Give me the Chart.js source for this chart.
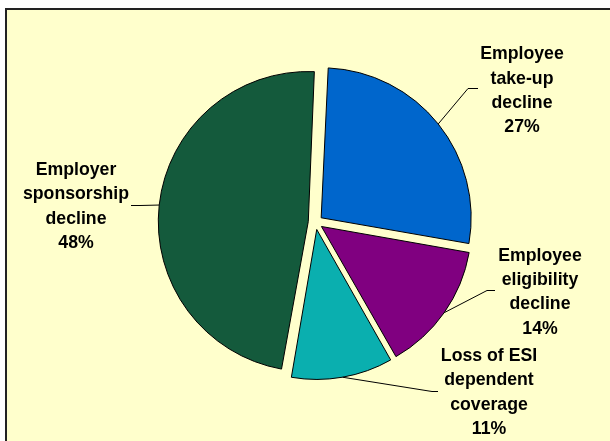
<!DOCTYPE html>
<html>
<head>
<meta charset="utf-8">
<script src="https://cdn.jsdelivr.net/npm/chart.js@4/dist/chart.umd.min.js"></script>
<style>
  html, body { margin: 0; padding: 0; background: #fff; overflow: hidden; }
  .frame {
    position: absolute; left: 5px; top: 8px;
    width: 700px; height: 500px;
    background: #ffffcc;
    border: 2px solid #222;
  }
  #pie { position: absolute; left: 0; top: 0; }
</style>
</head>
<body>
<div class="frame"></div>
<canvas id="pie" width="610" height="441"></canvas>
<script>
// slices go clockwise from the top
const categories = [
  ['Employee', 'take-up', 'decline'],
  ['Employee', 'eligibility', 'decline'],
  ['Loss of ESI', 'dependent', 'coverage'],
  ['Employer', 'sponsorship', 'decline']
];
const shares = [27, 14, 11, 48];

const sliceColors = ['#0066cc', '#800080', '#0aafaf', '#145a3c'];

const PIE_RADIUS = 150;
const SLICE_OFFSET = 29;   // chart.js v4 shifts an arc by offset / 4
const LINE_STEP = 24.3;

// where each callout text block and its leader line sit
const labelPlacement = [
  { x: 522, y: 59.3,  knee: [468, 88.5],  end: [478, 88.5] },
  { x: 540, y: 260.8, knee: [487, 290.5], end: [495, 290.5] },
  { x: 489, y: 361,   knee: [432, 391.5], end: [438, 391.5] },
  { x: 76,  y: 175,   knee: [140, 205.5], end: [131, 205.5] }
];

// exploded arcs get a bigger radius for small/medium slices, undo that
const explodeFix = {
  id: 'explodeFix',
  afterDatasetsUpdate(chart) {
    chart.getDatasetMeta(0).data.forEach(arc => {
      const shift = SLICE_OFFSET / 4;
      const fix = 1 - Math.sin(Math.min(Math.PI, arc.circumference));
      arc.outerRadius = PIE_RADIUS - shift * fix;
    });
  }
};

const calloutLabels = {
  id: 'calloutLabels',
  afterDatasetsDraw(chart) {
    const ctx = chart.ctx;
    const arcs = chart.getDatasetMeta(0).data;
    ctx.save();
    ctx.strokeStyle = '#000';
    ctx.lineWidth = 1;
    ctx.fillStyle = '#000';
    ctx.font = 'bold 17.7px "Liberation Sans", Arial, sans-serif';
    ctx.textAlign = 'center';
    ctx.textBaseline = 'alphabetic';
    arcs.forEach((arc, i) => {
      const mid = (arc.startAngle + arc.endAngle) / 2;
      const r = PIE_RADIUS + SLICE_OFFSET / 4;
      const ax = arc.x + Math.cos(mid) * r;
      const ay = arc.y + Math.sin(mid) * r;
      const p = labelPlacement[i];
      ctx.beginPath();
      ctx.moveTo(ax, ay);
      ctx.lineTo(p.knee[0], p.knee[1]);
      ctx.lineTo(p.end[0], p.end[1]);
      ctx.stroke();
      const lines = categories[i].concat(shares[i] + '%');
      lines.forEach((t, k) => ctx.fillText(t, p.x, p.y + k * LINE_STEP));
    });
    ctx.restore();
  }
};

new Chart(document.getElementById('pie'), {
  type: 'pie',
  data: {
    labels: categories.map(c => c.join(' ')),
    datasets: [{
      data: shares,
      backgroundColor: sliceColors,
      borderColor: '#000',
      borderWidth: 1,
      offset: SLICE_OFFSET,
      radius: PIE_RADIUS,
      rotation: 2.7
    }]
  },
  options: {
    responsive: false,
    animation: false,
    devicePixelRatio: 1,
    layout: { padding: { left: 31, right: 10, top: 13.6, bottom: 10 } },
    plugins: {
      legend: { display: false },
      tooltip: { enabled: false }
    }
  },
  plugins: [explodeFix, calloutLabels]
});
</script>
</body>
</html>
